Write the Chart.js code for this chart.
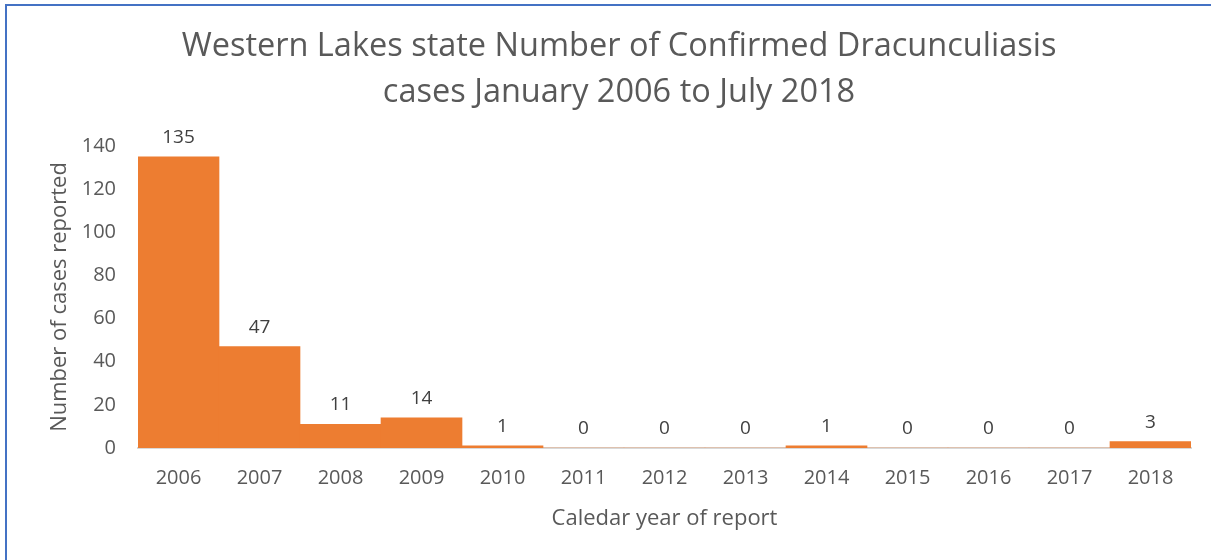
<!DOCTYPE html>
<html lang="en">
<head>
    <meta charset="UTF-8">
    <title>Dracunculiasis cases</title>
    <script src="https://cdn.jsdelivr.net/npm/chart.js"></script>
    <style>
        body {
            margin: 0;
            background: #fff;
            width: 1211px;
            height: 560px;
            overflow: hidden;
        }
        #frame {
            position: absolute;
            left: 5px;
            top: 4px;
            right: 0;
            bottom: 0;
            border-left: 2px solid #4472C4;
            border-top: 2px solid #4472C4;
        }
        #chart-container {
            position: absolute;
            left: 0;
            top: 0;
            width: 1204px;
            height: 554px;
        }
    </style>
</head>
<body>
    <div id="frame">
        <div id="chart-container">
            <canvas id="casesChart"></canvas>
        </div>
    </div>

    <script>
        const years = ['2006', '2007', '2008', '2009', '2010', '2011', '2012', '2013', '2014', '2015', '2016', '2017', '2018'];
        const cases = [135, 47, 11, 14, 1, 0, 0, 0, 1, 0, 0, 0, 3];
        const titleLines = ['Western Lakes state Number of Confirmed Dracunculiasis', 'cases January 2006 to July 2018'];

        const fontName = "'Open Sans', sans-serif";

        // draws the value above each bar
        const valueLabels = {
            id: 'valueLabels',
            afterDatasetsDraw(chart) {
                const ctx = chart.ctx;
                const meta = chart.getDatasetMeta(0);
                ctx.save();
                ctx.font = '19px ' + fontName;
                ctx.fillStyle = '#404040';
                ctx.textAlign = 'center';
                ctx.textBaseline = 'alphabetic';
                meta.data.forEach((bar, i) => {
                    ctx.fillText(cases[i], bar.x, bar.y - 14);
                });
                ctx.restore();
            }
        };

        const ctx = document.getElementById('casesChart').getContext('2d');
        new Chart(ctx, {
            type: 'bar',
            data: {
                labels: years,
                datasets: [{
                    data: cases,
                    backgroundColor: '#ED7D31',
                    barPercentage: 1.0,
                    categoryPercentage: 1.0,
                }],
            },
            options: {
                responsive: true,
                maintainAspectRatio: false,
                animation: false,
                layout: {
                    padding: { left: 40, right: 20, top: 17, bottom: 0 }
                },
                plugins: {
                    legend: { display: false },
                    tooltip: { enabled: false },
                    title: {
                        display: true,
                        text: titleLines,
                        color: '#595959',
                        font: { family: fontName, size: 32.5, weight: 'normal', lineHeight: 1.43 },
                        padding: { top: 0, bottom: 30 },
                    },
                },
                scales: {
                    x: {
                        grid: { display: false, drawTicks: false },
                        border: { display: true, color: '#D9D9D9', width: 2 },
                        ticks: {
                            color: '#595959',
                            font: { family: fontName, size: 20 },
                            padding: 18,
                            maxRotation: 0,
                        },
                        title: {
                            display: true,
                            text: 'Caledar year of report',
                            color: '#595959',
                            font: { family: fontName, size: 22 },
                            padding: { top: 14, bottom: 28 },
                        },
                        afterFit(scale) { scale.height = 112; },
                    },
                    y: {
                        min: 0,
                        max: 140,
                        grid: { display: false, drawTicks: false },
                        border: { display: false },
                        ticks: {
                            stepSize: 20,
                            color: '#595959',
                            font: { family: fontName, size: 20 },
                            padding: 22,
                        },
                        title: {
                            display: true,
                            text: 'Number of cases reported',
                            color: '#595959',
                            font: { family: fontName, size: 22 },
                            padding: { top: 0, bottom: 4 },
                        },
                        afterFit(scale) { scale.width = 91; },
                    },
                },
            },
            plugins: [valueLabels],
        });
    </script>
</body>
</html>
